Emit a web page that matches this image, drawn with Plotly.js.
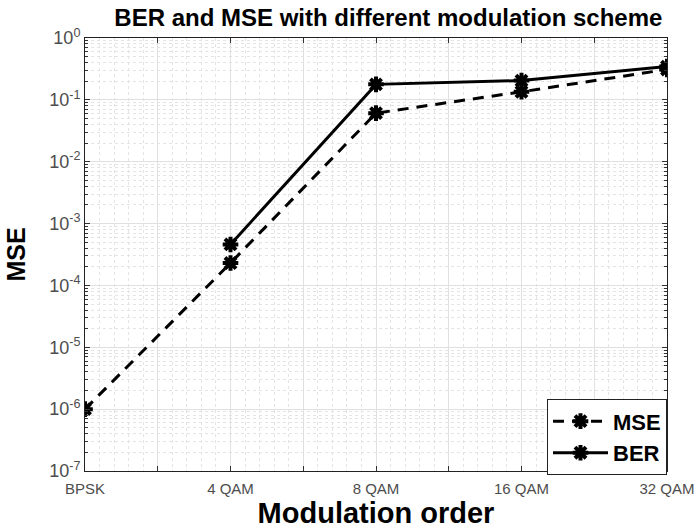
<!DOCTYPE html>
<html>
<head>
<meta charset="utf-8">
<script src="https://cdn.plot.ly/plotly-3.0.1.min.js"></script>
<style>
  html, body { margin: 0; padding: 0; background: #fff; }
  #chart { width: 696px; height: 531px; }
</style>
</head>
<body>
<div id="chart"></div>
<script>
// Modulation schemes on the x axis (positions 1..5)
const schemes = ['BPSK', '4 QAM', '8 QAM', '16 QAM', '32 QAM'];
const schemePos = [1, 2, 3, 4, 5];

// Mean squared error per scheme
const mseValues = [1e-6, 2.3e-4, 0.061, 0.135, 0.31];

// Bit error rate per scheme (BPSK had no errors, so nothing on a log scale)
const berPos = [2, 3, 4, 5];
const berValues = [4.6e-4, 0.178, 0.205, 0.345];

// Decade tick labels for the log axis
const yTickVals = [1e-7, 1e-6, 1e-5, 1e-4, 1e-3, 1e-2, 1e-1, 1];
const yTickText = ['10<sup>-7</sup>', '10<sup>-6</sup>', '10<sup>-5</sup>', '10<sup>-4</sup>',
                   '10<sup>-3</sup>', '10<sup>-2</sup>', '10<sup>-1</sup>', '10<sup>0</sup>'];

// x ticks every half step; only whole steps carry a label
const xTickVals = [];
const xTickText = [];
for (let i = 0; i < schemePos.length; i++) {
  xTickVals.push(schemePos[i]);
  xTickText.push(schemes[i]);
  if (i < schemePos.length - 1) {
    xTickVals.push(schemePos[i] + 0.5);
    xTickText.push('');
  }
}

const markerStyle = {
  symbol: 'asterisk-open',
  size: 13,
  color: '#000',
  line: { color: '#000', width: 4 }
};

const traces = [
  {
    x: schemePos, y: mseValues, name: 'MSE',
    type: 'scatter', mode: 'lines+markers',
    line: { color: '#000', width: 3, dash: '11px,8px' },
    marker: markerStyle
  },
  {
    x: berPos, y: berValues, name: 'BER',
    type: 'scatter', mode: 'lines+markers',
    line: { color: '#000', width: 3 },
    marker: markerStyle
  }
];

const fontFamily = 'Liberation Sans, Arial, sans-serif';
const tickFont = { family: fontFamily, size: 15, color: '#4d4d4d' };

const layout = {
  width: 696, height: 531,
  margin: { l: 85, r: 29, t: 38, b: 60 },
  paper_bgcolor: '#fff', plot_bgcolor: '#fff',
  showlegend: true,
  title: {
    text: '<b>BER and MSE with different modulation scheme</b>',
    font: { family: fontFamily, size: 24, color: '#000' },
    x: 0.558, xanchor: 'center', y: 0.966, yanchor: 'middle'
  },
  xaxis: {
    type: 'linear', range: [1, 5],
    tickmode: 'array', tickvals: xTickVals, ticktext: xTickText,
    ticks: 'inside', ticklen: 5, tickcolor: '#333',
    ticklabelstandoff: 4,
    showline: true, linecolor: '#222', linewidth: 1, mirror: 'ticks',
    showgrid: true, gridcolor: '#e0e0e0', gridwidth: 1,
    minor: { dtick: 0.1, showgrid: true, gridcolor: '#e4e4e4', griddash: 'dot', gridwidth: 1, ticks: '' },
    zeroline: false,
    tickfont: tickFont,
    title: {
      text: '<b>Modulation order</b>',
      font: { family: fontFamily, size: 29, color: '#000' },
      standoff: 2
    }
  },
  yaxis: {
    type: 'log', range: [-7, 0],
    tickmode: 'array', tickvals: yTickVals, ticktext: yTickText,
    ticks: 'inside', ticklen: 5, tickcolor: '#333',
    showline: true, linecolor: '#222', linewidth: 1, mirror: 'ticks',
    showgrid: true, gridcolor: '#e0e0e0', gridwidth: 1,
    minor: { dtick: 'D1', showgrid: true, gridcolor: '#e4e4e4', griddash: 'dot', gridwidth: 1, ticks: 'inside', ticklen: 3, tickcolor: '#333' },
    zeroline: false,
    tickfont: { family: fontFamily, size: 18, color: '#4d4d4d' },
    title: {
      text: '<b>MSE</b>',
      font: { family: fontFamily, size: 25, color: '#000' },
      standoff: 16
    }
  },
  legend: {
    x: 1, xanchor: 'right', y: -0.01, yanchor: 'bottom',
    bgcolor: '#fff', bordercolor: '#222', borderwidth: 1,
    font: { family: fontFamily, size: 22, color: '#000', weight: 'bold' },
    itemwidth: 55, tracegroupgap: 0
  }
};

Plotly.newPlot('chart', traces, layout, { displayModeBar: false, staticPlot: true });
</script>
</body>
</html>
